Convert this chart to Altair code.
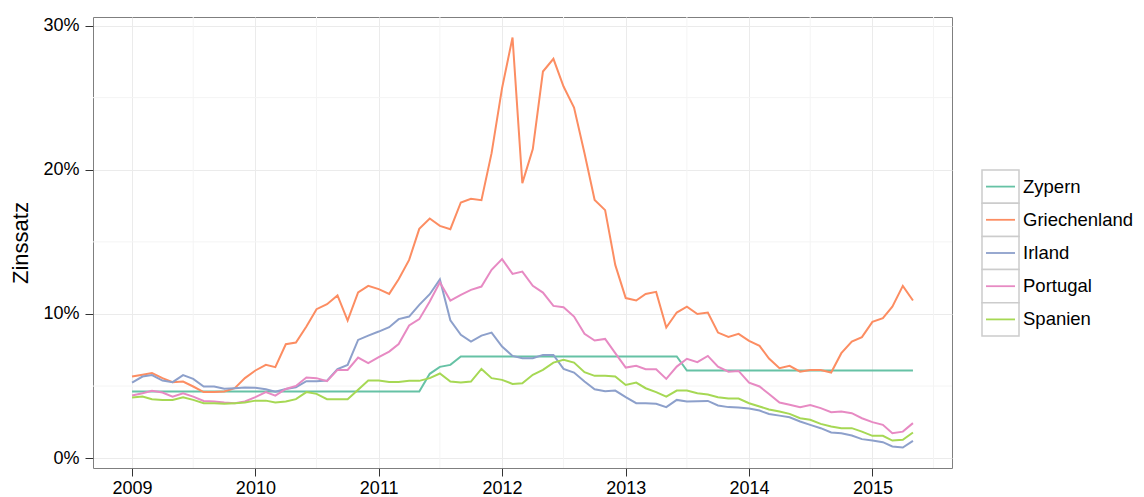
import altair as alt
import pandas as pd

countries = ["Zypern", "Griechenland", "Irland", "Portugal", "Spanien"]
colors = ["#66C2A5", "#FC8D62", "#8DA0CB", "#E78AC3", "#A6D854"]

# monthly observations, Jan 2009 - May 2015
months = pd.date_range("2009-01-01", periods=77, freq="MS")

zypern = [
    4.62, 4.62, 4.62, 4.62, 4.62, 4.62, 4.62, 4.62, 4.62, 4.62, 4.62, 4.62, 4.62, 4.62, 4.62, 4.62,
    4.62, 4.62, 4.62, 4.62, 4.62, 4.62, 4.62, 4.62, 4.62, 4.62, 4.62, 4.62, 4.62, 5.85, 6.33,
    6.47, 7.05, 7.05, 7.05, 7.05, 7.05, 7.05, 7.05, 7.05, 7.05, 7.05, 7.05, 7.05, 7.05, 7.05, 7.05,
    7.05, 7.05, 7.05, 7.05, 7.05, 7.05, 7.05, 6.08, 6.08, 6.08, 6.08, 6.08, 6.08, 6.08, 6.08, 6.08,
    6.08, 6.08, 6.08, 6.08, 6.08, 6.08, 6.08, 6.08, 6.08, 6.08, 6.08, 6.08, 6.08, 6.08,
]
griechenland = [
    5.66, 5.78, 5.90, 5.55, 5.27, 5.31, 4.97, 4.58, 4.58, 4.62, 4.85, 5.55, 6.08, 6.47, 6.31, 7.90,
    8.02, 9.13, 10.33, 10.68, 11.28, 9.54, 11.49, 11.95, 11.72, 11.39, 12.41, 13.75, 15.90, 16.62, 16.11,
    15.88, 17.73, 17.98, 17.89, 21.15, 25.66, 29.17, 19.07, 21.43, 26.81, 27.69, 25.77, 24.31, 21.15, 17.91, 17.20,
    13.40, 11.10, 10.93, 11.39, 11.53, 9.06, 10.10, 10.51, 10.00, 10.10, 8.71, 8.41, 8.62, 8.13, 7.79, 6.91,
    6.24, 6.40, 6.00, 6.12, 6.12, 5.94, 7.28, 8.09, 8.39, 9.45, 9.71, 10.51, 11.95, 10.93,
]
irland = [
    5.24, 5.66, 5.76, 5.38, 5.27, 5.76, 5.50, 4.97, 4.97, 4.81, 4.85, 4.90, 4.88, 4.78, 4.60, 4.80,
    4.92, 5.34, 5.34, 5.38, 6.17, 6.47, 8.20, 8.50, 8.78, 9.08, 9.64, 9.82, 10.63, 11.37, 12.39,
    9.56, 8.55, 8.09, 8.50, 8.71, 7.74, 7.09, 6.93, 6.93, 7.16, 7.16, 6.19, 5.94, 5.31, 4.78, 4.64,
    4.69, 4.23, 3.81, 3.81, 3.77, 3.54, 4.04, 3.93, 3.95, 3.97, 3.65, 3.54, 3.52, 3.44, 3.30, 3.06,
    2.95, 2.84, 2.54, 2.31, 2.08, 1.78, 1.73, 1.57, 1.32, 1.22, 1.11, 0.81, 0.74, 1.20,
]
portugal = [
    4.34, 4.50, 4.67, 4.55, 4.27, 4.50, 4.27, 3.97, 3.93, 3.86, 3.81, 3.93, 4.23, 4.58, 4.34, 4.80,
    5.01, 5.59, 5.55, 5.34, 6.12, 6.12, 6.98, 6.59, 7.00, 7.39, 7.91, 9.20, 9.64, 10.86, 12.20,
    10.93, 11.32, 11.67, 11.90, 13.06, 13.80, 12.78, 12.94, 11.95, 11.48, 10.56, 10.47, 9.82, 8.62, 8.16, 8.27,
    7.28, 6.28, 6.40, 6.17, 6.17, 5.50, 6.35, 6.89, 6.66, 7.09, 6.35, 6.00, 6.05, 5.24, 4.97, 4.45,
    3.86, 3.70, 3.54, 3.68, 3.47, 3.19, 3.23, 3.12, 2.77, 2.50, 2.31, 1.73, 1.84, 2.43,
]
spanien = [
    4.20, 4.27, 4.09, 4.04, 4.04, 4.23, 4.04, 3.81, 3.81, 3.77, 3.81, 3.86, 3.99, 3.99, 3.86, 3.93,
    4.09, 4.58, 4.46, 4.09, 4.09, 4.09, 4.74, 5.38, 5.38, 5.29, 5.29, 5.36, 5.36, 5.55, 5.87,
    5.31, 5.24, 5.31, 6.19, 5.55, 5.43, 5.15, 5.20, 5.78, 6.12, 6.63, 6.82, 6.63, 5.96, 5.71, 5.71,
    5.66, 5.08, 5.24, 4.85, 4.58, 4.27, 4.69, 4.69, 4.50, 4.41, 4.23, 4.13, 4.13, 3.81, 3.58, 3.38,
    3.23, 3.07, 2.77, 2.66, 2.38, 2.19, 2.08, 2.08, 1.84, 1.55, 1.55, 1.22, 1.27, 1.78,
]

year_ticks = [2009, 2010, 2011, 2012, 2013, 2014, 2015]
y_major = [0, 10, 20, 30]
y_minor = [5, 15, 25]
x_minor = ["2009-07-01", "2010-07-01", "2011-07-01", "2012-07-01",
           "2013-07-01", "2014-07-01", "2015-07-01"]

series = dict(zip(countries, [zypern, griechenland, irland, portugal, spanien]))
rows = []
for c in countries:
    for d, v in zip(months, series[c]):
        rows.append({"date": d.strftime("%Y-%m-%d"), "country": c, "rate": v})
df = pd.DataFrame(rows)

# ggplot-like 5% expansion of the data range
vals = [v for c in countries for v in series[c]]
lo, hi = min(vals), max(vals)
ypad = 0.05 * (hi - lo)
y_domain = [lo - ypad, hi + ypad]
t0, t1 = months[0], months[-1]
tpad = (t1 - t0) * 0.05
x_domain = [int((t0 - tpad).timestamp() * 1000), int((t1 + tpad).timestamp() * 1000)]

FONT = "Liberation Sans"
xscale = alt.Scale(type="utc", domain=x_domain, nice=False)
yscale = alt.Scale(domain=y_domain, nice=False, zero=False)
xaxis = alt.Axis(
    values=[alt.DateTime(year=y, month=1, date=1, utc=True) for y in year_ticks],
    format="%Y", grid=True, gridColor="#EBEBEB", gridWidth=1, domain=False,
    tickColor="#333333", tickSize=8, labelPadding=3, labelFontSize=18,
    labelColor="#000000", labelFont=FONT, title=None,
)
yaxis = alt.Axis(
    values=y_major, labelExpr="datum.value + '%'", grid=True, gridColor="#EBEBEB",
    domain=False, tickColor="#333333", tickSize=8, labelPadding=6, labelFontSize=18,
    labelColor="#000000", labelFont=FONT, orient="left",
    title="Zinssatz", titleFontSize=22, titleFontWeight="normal", titleFont=FONT,
    titleColor="#000000", titleX=-73, titleAngle=270, titleBaseline="middle",
    titleAlign="center",
)
xenc = alt.X("date:T", scale=xscale, axis=xaxis)

vminor = alt.Chart(pd.DataFrame({"date": x_minor})).mark_rule(
    color="#F4F4F4", strokeWidth=1
).encode(x=xenc)
hminor = alt.Chart(pd.DataFrame({"v": y_minor})).mark_rule(
    color="#F4F4F4", strokeWidth=1
).encode(y=alt.Y("v:Q", scale=yscale, axis=None))

color = alt.Color("country:N", scale=alt.Scale(domain=countries, range=colors), legend=None)
lines = alt.Chart(df).mark_line(strokeWidth=2).encode(
    x=xenc,
    y=alt.Y("rate:Q", scale=yscale, axis=yaxis),
    color=color,
    detail="country:N",
)

# custom ggplot-style legend (boxed keys)
leg_df = pd.DataFrame({"country": countries})
leg_scale = alt.Scale(domain=countries, range=[153, 319], paddingInner=0, paddingOuter=0)
leg_box = alt.Chart(leg_df).mark_rect(fill="white", stroke="#CCCCCC", strokeWidth=1.5).encode(
    y=alt.Y("country:N", scale=leg_scale, axis=None, sort=countries),
    x=alt.value(889), x2=alt.value(926),
)
leg_line = alt.Chart(leg_df).mark_rule(strokeWidth=1.8).encode(
    y=alt.Y("country:N", scale=leg_scale, axis=None, sort=countries, bandPosition=0.5),
    x=alt.value(893), x2=alt.value(922),
    color=color,
)
leg_text = alt.Chart(leg_df).mark_text(
    align="left", baseline="middle", fontSize=18.5, font=FONT, color="#000000"
).encode(
    y=alt.Y("country:N", scale=leg_scale, axis=None, sort=countries, bandPosition=0.5),
    x=alt.value(930),
    text="country:N",
)

chart = alt.layer(vminor, hminor, lines, leg_box, leg_line, leg_text).resolve_scale(
    y="independent"
).properties(
    width=859, height=451,
    padding={"left": 85, "top": 9, "right": 184, "bottom": 30},
    autosize=alt.AutoSizeParams(type="none"),
).configure(font=FONT).configure_view(stroke="#7F7F7F", strokeWidth=1)

chart.save("out.html", embed_options={"renderer": "svg", "actions": False})
